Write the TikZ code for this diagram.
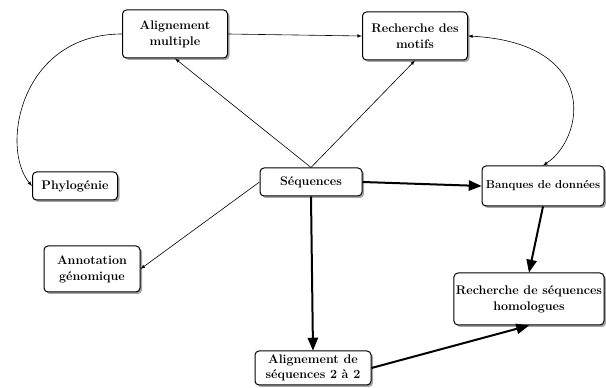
\documentclass[tikz,border=0pt]{standalone}
\usepackage{tikz}
\usetikzlibrary{calc,arrows,shadows}

\tikzset{
	box/.style={draw, line width=1pt, rounded corners=4pt, fill=white, align=center,
		font=\fontsize{12.5}{14}\selectfont\bfseries, inner sep=2pt,
		drop shadow={shadow xshift=2pt, shadow yshift=-2pt, fill=gray!70, opacity=1}},
	thin/.style={-latex, line width=0.6pt},
	thick/.style={-triangle 45, line width=2pt}
}

\begin{document}
\begin{tikzpicture}[x=1pt,y=1pt]
			\useasboundingbox (0,0) rectangle (606,388);
			%boxes
			\node[box, minimum width=105, minimum height=48] (am) at (175,354) {Alignement\\[2pt] multiple};
			\node[box, minimum width=105, minimum height=48] (rm) at (415,352) {Recherche des\\[2pt] motifs};
			\node[box, minimum width=85, minimum height=28] (phylo) at (75,202) {Phylogénie};
			\node[box, minimum width=102, minimum height=28] (seq) at (311,206) {Séquences};
			\node[box, minimum width=122, minimum height=40, font=\fontsize{11.5}{13}\selectfont\bfseries] (bd) at (543,202) {Banques de données};
			\node[box, minimum width=96, minimum height=46] (annot) at (92,119) {Annotation\\[2pt] génomique};
			\node[box, minimum width=148, minimum height=52] (rsh) at (529,89) {Recherche de séquences\\[2pt] homologues};
			\node[box, minimum width=116, minimum height=34] (a22) at (313,20) {Alignement de\\[1pt] séquences 2 à 2};
			
			%thin links
			\draw[thin] (am.east) -- (rm.west);
			\draw[thin] (am.west) .. controls (20,354) and (0,240) .. (phylo.west);
			\draw[thin] (seq.north) -- (am.south);
			\draw[thin] (seq.north) -- (rm.south);
			\draw[thin] (seq.west) -- (annot.east);
			\draw[latex-latex, line width=0.6pt] (rm.east) .. controls (600,345) and (585,250) .. (bd.north);
			
			%thick links
			\draw[thick] (seq.east) -- (bd.west);
			\draw[thick] (seq.south) -- (a22.north);
			\draw[thick] (bd.south) -- (rsh.north);
			\draw[thick] (a22.east) -- (rsh.south);
			
			\end{tikzpicture}
\end{document}
